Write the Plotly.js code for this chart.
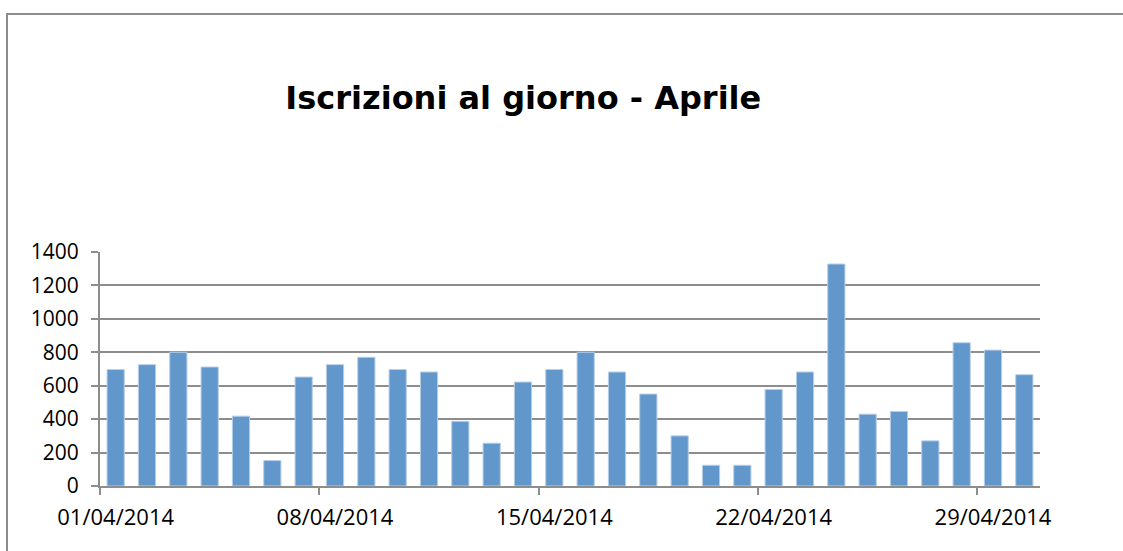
<!DOCTYPE html>
<html>
<head>
<meta charset="utf-8">
<script src="https://cdn.plot.ly/plotly-3.0.1.min.js"></script>
<style>
  html, body { margin: 0; padding: 0; background: #ffffff; overflow: hidden; }
  #chart { width: 1123px; height: 551px; }
</style>
</head>
<body>
<div id="chart"></div>
<script>
const days = [
  '2014-04-01','2014-04-02','2014-04-03','2014-04-04','2014-04-05',
  '2014-04-06','2014-04-07','2014-04-08','2014-04-09','2014-04-10',
  '2014-04-11','2014-04-12','2014-04-13','2014-04-14','2014-04-15',
  '2014-04-16','2014-04-17','2014-04-18','2014-04-19','2014-04-20',
  '2014-04-21','2014-04-22','2014-04-23','2014-04-24','2014-04-25',
  '2014-04-26','2014-04-27','2014-04-28','2014-04-29','2014-04-30'
];
const iscrizioni = [
  697, 726, 800, 712, 418, 152, 652, 726, 770, 697,
  682, 387, 256, 622, 697, 800, 682, 550, 300, 124,
  124, 578, 682, 1328, 430, 446, 270, 857, 813, 666
];
const labelDays = ['2014-04-01','2014-04-08','2014-04-15','2014-04-22','2014-04-29'];
const titleText = 'Iscrizioni al giorno - Aprile';

const DAY = 86400000;
const font = '"Open Sans", sans-serif';
const W = 1123, H = 551;
const M = { l: 100, r: 83, t: 252, b: 65 };
const pw = W - M.l - M.r, ph = H - M.t - M.b;
// chart-area frame (left and top edges), given in pixels and converted to paper units
const px = x => (x - M.l) / pw;
const py = y => (H - M.b - y) / ph;
const frameColor = '#8d8d8d';

const trace = {
  type: 'bar',
  x: days,
  y: iscrizioni,
  xperiod: DAY,
  xperiodalignment: 'middle',
  marker: { color: '#6197cb', line: { color: '#b8cfe8', width: 1 } },
  hoverinfo: 'x+y'
};

const layout = {
  width: W,
  height: H,
  paper_bgcolor: '#ffffff',
  plot_bgcolor: '#ffffff',
  margin: M,
  bargap: 0.45,
  showlegend: false,
  title: {
    text: '<b>' + titleText + '</b>',
    font: { family: '"DejaVu Sans", sans-serif', size: 32, color: '#000000' },
    x: 0.466, xref: 'container', xanchor: 'center',
    y: 0.822, yref: 'container', yanchor: 'middle'
  },
  shapes: [
    { type: 'line', xref: 'paper', yref: 'paper', x0: px(7), x1: px(7), y0: py(14), y1: py(H + 10),
      line: { color: frameColor, width: 2 } },
    { type: 'line', xref: 'paper', yref: 'paper', x0: px(6), x1: px(W + 10), y0: py(14), y1: py(14),
      line: { color: frameColor, width: 2 } }
  ],
  xaxis: {
    type: 'date',
    range: ['2014-04-01', '2014-05-01'],
    tickmode: 'array',
    tickvals: labelDays.map(d => d + ' 12:00'),
    tickformat: '%d/%m/%Y',
    ticks: '',
    showgrid: false,
    showline: true,
    linecolor: '#8d8d8d',
    linewidth: 2,
    ticklabelstandoff: 11,
    tickfont: { family: font, size: 22, color: '#000000' },
    minor: {
      tick0: labelDays[0],
      dtick: 7 * DAY,
      ticks: 'outside',
      ticklen: 7,
      tickwidth: 2,
      tickcolor: '#8d8d8d',
      showgrid: false
    },
    fixedrange: true
  },
  yaxis: {
    range: [0, 1400],
    dtick: 200,
    tick0: 0,
    showgrid: true,
    gridcolor: '#8d8d8d',
    gridwidth: 2,
    zeroline: false,
    showline: true,
    linecolor: '#8d8d8d',
    linewidth: 2,
    ticks: 'outside',
    ticklen: 7,
    tickwidth: 2,
    tickcolor: '#8d8d8d',
    ticklabelstandoff: 8,
    tickfont: { family: font, size: 21, color: '#000000' },
    fixedrange: true
  }
};

Plotly.newPlot('chart', [trace], layout, { displayModeBar: false, staticPlot: true });
</script>
</body>
</html>
